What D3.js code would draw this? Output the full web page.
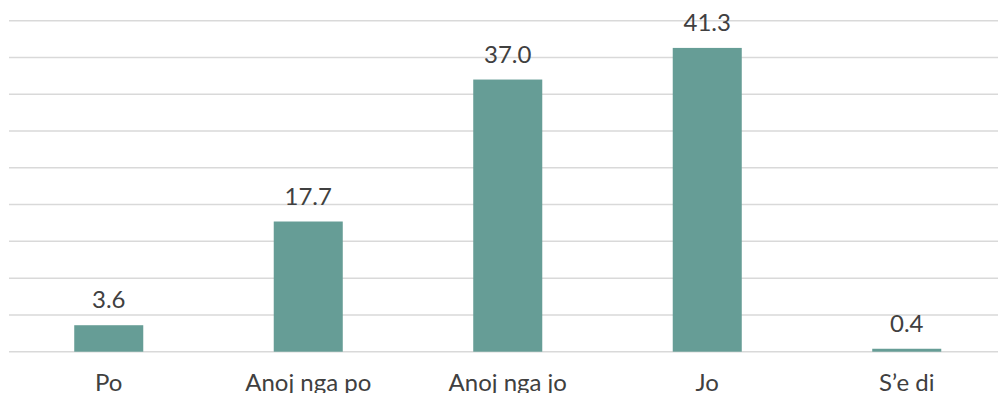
<!DOCTYPE html>
<html>
<head>
<meta charset="utf-8">
<script src="https://cdn.jsdelivr.net/npm/d3@7"></script>
<style>
  html, body { margin: 0; padding: 0; background: #fff; }
  svg { display: block; }
  text { font-family: "Lato", "Open Sans", sans-serif; fill: #404040; }
</style>
</head>
<body>
<script>
// Survey answers and the share of respondents (%) for each
const categories = ["Po", "Anoj nga po", "Anoj nga jo", "Jo", "S\u2019e di"];
const values = [3.6, 17.7, 37.0, 41.3, 0.4];
const gridTicks = [0, 5, 10, 15, 20, 25, 30, 35, 40, 45];

const W = 998, H = 393;
const svg = d3.select("body").append("svg").attr("width", W).attr("height", H);

const x = d3.scaleBand().domain(categories).range([9, 1006.5]).paddingInner(0.654).paddingOuter(0.327);
const y = d3.scaleLinear().domain([0, 45]).range([351.7, 20.7]);

// horizontal gridlines
svg.append("g").selectAll("line").data(gridTicks).join("line")
  .attr("x1", 9).attr("x2", W)
  .attr("y1", d => y(d)).attr("y2", d => y(d))
  .attr("stroke", "#d9d9d9").attr("stroke-width", 1.5);

// bars
svg.append("g").selectAll("rect").data(values).join("rect")
  .attr("x", (d, i) => x(categories[i]))
  .attr("width", x.bandwidth())
  .attr("y", d => y(d))
  .attr("height", d => y(0) - y(d))
  .attr("fill", "#669d96");

// value labels
svg.append("g").selectAll("text").data(values).join("text")
  .attr("x", (d, i) => x(categories[i]) + x.bandwidth() / 2)
  .attr("y", d => y(d) - 17)
  .attr("text-anchor", "middle")
  .style("font-size", "24px")
  .text(d => d.toFixed(1));

// category axis labels
const xAxis = d3.axisBottom(x).tickSize(0).tickPadding(0);
const gx = svg.append("g").attr("transform", `translate(0,${y(0)})`).call(xAxis);
gx.select(".domain").remove();
gx.selectAll("text")
  .attr("dy", null)
  .attr("y", 39)
  .style("font-size", "24px")
  .style("font-family", "Lato, 'Open Sans', sans-serif")
  .attr("fill", "#404040");
</script>
</body>
</html>
